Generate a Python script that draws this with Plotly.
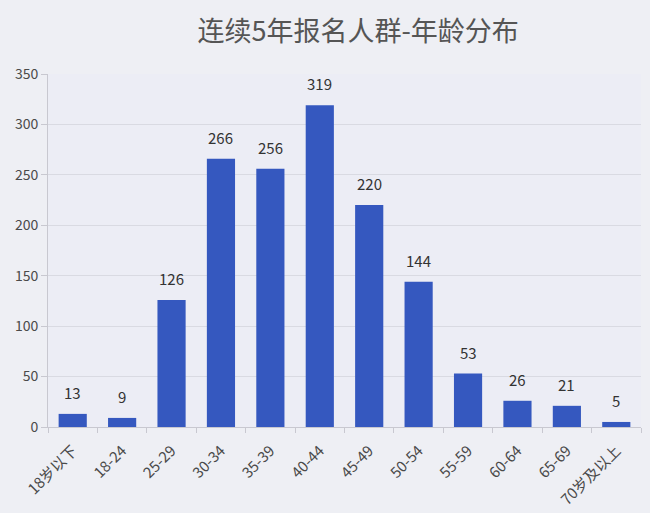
import plotly.graph_objects as go

age_groups = ['18岁以下', '18-24', '25-29', '30-34', '35-39', '40-44',
              '45-49', '50-54', '55-59', '60-64', '65-69', '70岁及以上']
counts = [13, 9, 126, 266, 256, 319, 220, 144, 53, 26, 21, 5]

FONT = 'Noto Sans CJK SC, Noto Sans, sans-serif'

fig = go.Figure()
fig.add_trace(go.Bar(
    x=age_groups,
    y=counts,
    marker={'color': '#3558bf', 'line': {'width': 0}},
    hoverinfo='x+y',
))

# value labels sit a bit above the bars
for cat, val in zip(age_groups, counts):
    fig.add_annotation(
        x=cat, y=val, text=str(val), showarrow=False,
        yanchor='bottom', yshift=9,
        font={'family': FONT, 'size': 15, 'color': '#333333'},
    )

fig.update_layout(
    width=650,
    height=513,
    paper_bgcolor='#eeeff4',
    plot_bgcolor='#ecedf5',
    margin={'l': 48, 'r': 9, 't': 74, 'b': 86},
    bargap=0.43,
    showlegend=False,
    title={
        'text': '连续5年报名人群-年龄分布',
        'x': 0.551, 'xanchor': 'center',
        'y': 0.938, 'yanchor': 'middle',
        'font': {'family': FONT, 'size': 27, 'color': '#555555'},
    },
    xaxis={
        'automargin': False,
        'tickangle': -45,
        'tickfont': {'family': FONT, 'size': 15, 'color': '#4a4a4a'},
        'ticklabelstandoff': 8,
        'showline': True,
        'linecolor': '#c8c8d0',
        'ticks': 'outside',
        'tickson': 'boundaries',
        'ticklen': 5,
        'tickcolor': '#c8c8d0',
        'showgrid': False,
    },
    yaxis={
        'automargin': False,
        'range': [0, 350],
        'dtick': 50,
        'tickfont': {'family': FONT, 'size': 14, 'color': '#4a4a4a'},
        'showline': True,
        'linecolor': '#c8c8d0',
        'ticks': 'outside',
        'ticklen': 6,
        'tickcolor': '#c8c8d0',
        'gridcolor': '#d9dae2',
        'zeroline': False,
    },
)

# drop the default page margin so the figure starts at the window corner
fig.write_html('out.html', config={'displayModeBar': False},
               post_script="document.body.style.margin='0px';")
